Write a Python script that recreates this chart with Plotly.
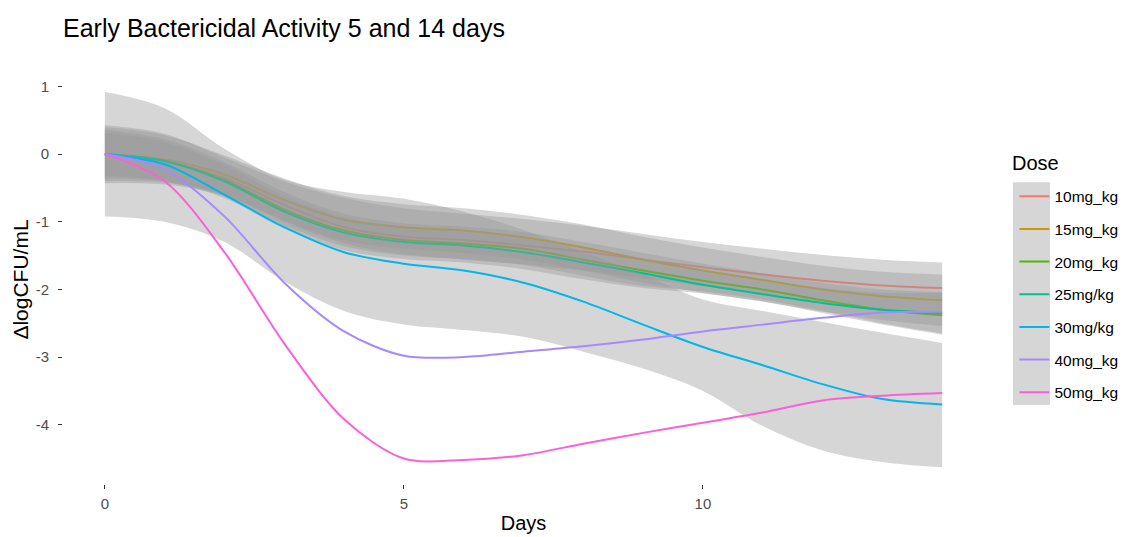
import plotly.graph_objects as go

days = list(range(15))
doses = ["10mg_kg", "15mg_kg", "20mg_kg", "25mg/kg", "30mg/kg", "40mg_kg", "50mg_kg"]
colors = ["#F8766D", "#C49A00", "#53B400", "#00C094", "#00B6EB", "#A58AFF", "#FB61D7"]

mean_10 = [0, -0.10, -0.35, -0.75, -1.08, -1.22, -1.27, -1.35, -1.44, -1.56, -1.67, -1.78, -1.87, -1.94, -1.98]
upper_10 = [0.43, 0.30, -0.05, -0.40, -0.65, -0.80, -0.88, -0.96, -1.06, -1.18, -1.30, -1.40, -1.49, -1.56, -1.60]
lower_10 = [-0.43, -0.45, -0.62, -1.00, -1.32, -1.48, -1.55, -1.63, -1.72, -1.84, -1.95, -2.06, -2.18, -2.30, -2.38]

mean_15 = [0, -0.08, -0.30, -0.68, -0.97, -1.08, -1.13, -1.23, -1.38, -1.56, -1.72, -1.86, -2.00, -2.10, -2.16]
upper_15 = [0.40, 0.28, -0.02, -0.36, -0.62, -0.74, -0.80, -0.90, -1.04, -1.22, -1.38, -1.52, -1.65, -1.74, -1.78]
lower_15 = [-0.40, -0.42, -0.60, -0.98, -1.28, -1.40, -1.46, -1.56, -1.72, -1.90, -2.05, -2.18, -2.33, -2.45, -2.54]

mean_20 = [0, -0.10, -0.38, -0.82, -1.13, -1.27, -1.32, -1.40, -1.56, -1.72, -1.87, -2.00, -2.16, -2.30, -2.38]
upper_20 = [0.36, 0.22, -0.12, -0.56, -0.88, -1.02, -1.07, -1.15, -1.30, -1.46, -1.62, -1.76, -1.90, -2.00, -2.04]
lower_20 = [-0.36, -0.40, -0.62, -1.05, -1.36, -1.50, -1.56, -1.64, -1.80, -1.95, -2.03, -2.15, -2.32, -2.50, -2.65]

mean_25 = [0, -0.10, -0.40, -0.85, -1.16, -1.30, -1.35, -1.45, -1.60, -1.76, -1.93, -2.07, -2.20, -2.30, -2.35]
upper_25 = [0.32, 0.18, -0.16, -0.62, -0.93, -1.08, -1.13, -1.24, -1.38, -1.54, -1.71, -1.86, -1.98, -2.05, -2.05]
lower_25 = [-0.32, -0.40, -0.65, -1.10, -1.42, -1.55, -1.60, -1.70, -1.85, -1.98, -2.06, -2.18, -2.35, -2.52, -2.67]

mean_30 = [0, -0.15, -0.60, -1.08, -1.45, -1.62, -1.72, -1.90, -2.18, -2.52, -2.85, -3.12, -3.40, -3.62, -3.70]
upper_30 = [0.92, 0.68, 0.08, -0.38, -0.56, -0.66, -0.85, -1.12, -1.45, -1.78, -2.15, -2.32, -2.48, -2.64, -2.79]
lower_30 = [-0.92, -1.00, -1.30, -1.88, -2.32, -2.52, -2.60, -2.70, -2.92, -3.17, -3.50, -4.02, -4.38, -4.55, -4.63]

mean_40 = [0, -0.22, -0.92, -1.90, -2.62, -2.98, -3.00, -2.92, -2.84, -2.74, -2.62, -2.52, -2.42, -2.34, -2.33]
mean_50 = [0, -0.40, -1.45, -2.80, -3.92, -4.50, -4.52, -4.45, -4.28, -4.12, -3.97, -3.82, -3.64, -3.57, -3.53]

means = [mean_10, mean_15, mean_20, mean_25, mean_30, mean_40, mean_50]
uppers = [upper_10, upper_15, upper_20, upper_25, upper_30, None, None]
lowers = [lower_10, lower_15, lower_20, lower_25, lower_30, None, None]

x_ticks = [0, 5, 10]
y_ticks = [1, 0, -1, -2, -3, -4]
y_ticktext = ["1", "0", "-1", "-2", "-3", "-4"]

font = "Liberation Sans, Arial, sans-serif"
fig = go.Figure()

for i, name in enumerate(doses):
    if uppers[i] is not None:
        fig.add_trace(go.Scatter(x=days, y=lowers[i], mode="lines",
                                 line=dict(width=0, shape="spline", smoothing=1),
                                 showlegend=False, hoverinfo="skip"))
        fig.add_trace(go.Scatter(x=days, y=uppers[i], mode="lines", fill="tonexty",
                                 fillcolor="rgba(153,153,153,0.4)",
                                 line=dict(width=0, shape="spline", smoothing=1),
                                 showlegend=False, hoverinfo="skip"))
    fig.add_trace(go.Scatter(x=days, y=means[i], mode="lines", name=name,
                             legendgroup=name,
                             line=dict(color=colors[i], width=2, shape="spline", smoothing=0.9)))

W = 1128
fig.update_layout(
    width=W, height=537,
    paper_bgcolor="white", plot_bgcolor="white",
    margin=dict(l=55, r=W + 8 - 984, t=67, b=61),
    font=dict(family=font, color="#000000"),
    title=dict(text="Early Bactericidal Activity 5 and 14 days", x=55 / W, xanchor="left",
               y=0.963, yanchor="middle", font=dict(size=25, family=font, color="#000000")),
    xaxis=dict(range=[-0.7, 14.7], tickvals=x_ticks, ticktext=[str(v) for v in x_ticks],
               showgrid=False, zeroline=False, showline=False,
               ticks="outside", ticklen=4, tickcolor="#333333", tickwidth=1,
               tickfont=dict(size=15, color="#4d4d4d"), ticklabelstandoff=2,
               title=dict(text="Days", font=dict(size=20, color="#000000"), standoff=4)),
    yaxis=dict(range=[-4.876, 1.17], tickvals=y_ticks, ticktext=y_ticktext,
               showgrid=False, zeroline=False, showline=False,
               ticks="outside", ticklen=4, tickcolor="#333333", tickwidth=1,
               tickfont=dict(size=15, color="#4d4d4d"), ticklabelstandoff=6,
               title=dict(text="ΔlogCFU/mL", font=dict(size=21, color="#000000"), standoff=1)),
    legend=dict(x=1.033, xanchor="left", y=0.744, yanchor="top",
                bgcolor="rgba(0,0,0,0)", tracegroupgap=9.5, itemwidth=30,
                font=dict(size=15.5, color="#000000", family=font)),
    shapes=[dict(type="rect", xref="paper", yref="paper",
                 x0=1.0315, x1=1.0717, y0=0.193, y1=0.738,
                 fillcolor="#d6d6d6", line=dict(width=0), layer="above")],
    annotations=[dict(text="Dose", xref="paper", yref="paper", x=1.028, y=0.785,
                      xanchor="left", yanchor="middle", showarrow=False,
                      font=dict(size=20, color="#000000", family=font))],
)

fig.write_html("out.html")
